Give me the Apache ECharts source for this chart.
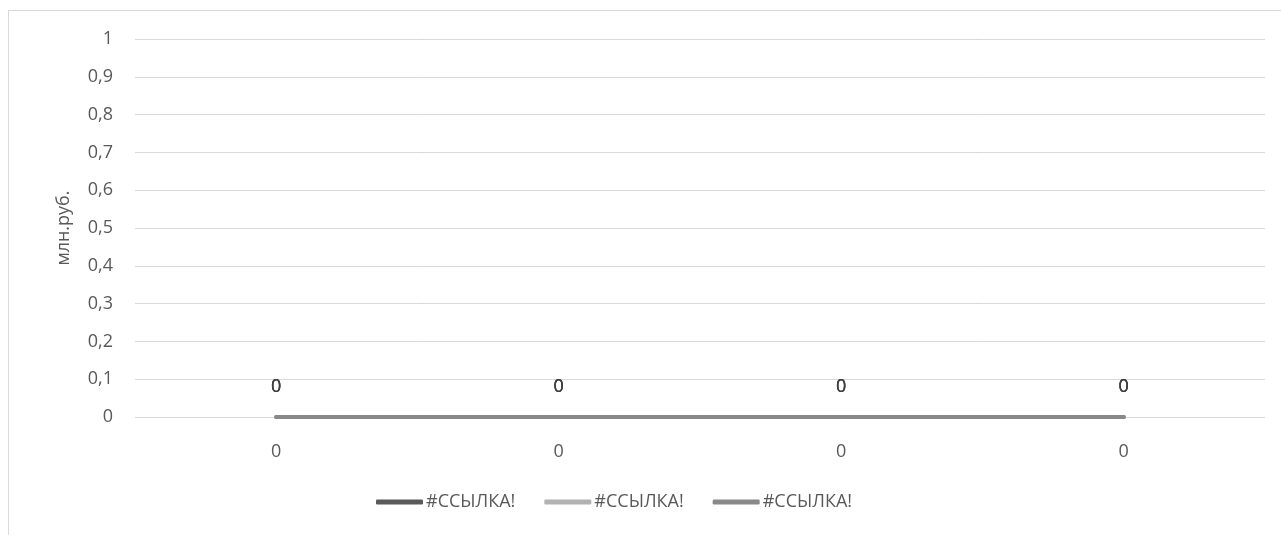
<!DOCTYPE html>
<html><head><meta charset="utf-8">
<script src="https://cdn.jsdelivr.net/npm/echarts@6/dist/echarts.min.js"></script>
<style>
html,body{margin:0;padding:0;background:#fff;}
#frame{position:absolute;left:8px;top:10px;width:1290px;height:540px;border:1px solid #d9d9d9;box-sizing:border-box;}
#c{position:absolute;left:0;top:0;width:1281px;height:535px;}
</style></head>
<body>
<div id="frame"></div>
<div id="c"></div>
<script>
const categories = ['0', '0', '0', '0'];
const seriesNames = ['#ССЫЛКА!', '#ССЫЛКА!', '#ССЫЛКА!'];
const seriesA = [0, 0, 0, 0];
const seriesB = [0, 0, 0, 0];
const seriesC = [0, 0, 0, 0];
const yTicks = [0, 0.1, 0.2, 0.3, 0.4, 0.5, 0.6, 0.7, 0.8, 0.9, 1];
const yTitle = 'млн.руб.';

const colors = ['#5a5a5a', '#b2b2b2', '#898989'];
const font = 'Open Sans';
const fs = 18;
const chart = echarts.init(document.getElementById('c'), null, {renderer: 'canvas'});
const seriesData = [seriesA, seriesB, seriesC];
chart.setOption({
  animation: false,
  textStyle: {fontFamily: font},
  grid: {left: 135, right: 16, top: 39, bottom: 118, containLabel: false},
  legend: {
    top: 493, left: 376, padding: 0,
    itemWidth: 47, itemHeight: 5, itemGap: 29,
    icon: 'roundRect',
    textStyle: {fontFamily: font, fontSize: fs, color: '#595959', padding: [0, 0, 0, -2]},
    data: seriesNames.map((n, i) => ({name: n + '\u200b'.repeat(i), itemStyle: {color: colors[i]}}))
  },
  xAxis: {
    type: 'category', data: categories, boundaryGap: true,
    axisLine: {show: false}, axisTick: {show: false},
    axisLabel: {fontFamily: font, fontSize: fs, color: '#595959', margin: 26}
  },
  yAxis: {
    type: 'value', min: 0, max: 1, interval: 0.1,
    name: yTitle, nameLocation: 'middle', nameGap: 62, nameRotate: 90,
    nameTextStyle: {fontFamily: font, fontSize: fs, color: '#595959'},
    axisLine: {show: false}, axisTick: {show: false},
    splitLine: {lineStyle: {color: '#d9d9d9', width: 1}},
    axisLabel: {fontFamily: font, fontSize: fs, color: '#595959', margin: 22,
      formatter: v => { const t = yTicks.find(x => Math.abs(x - v) < 1e-9); return String(t !== undefined ? t : v).replace('.', ','); }}
  },
  series: seriesData.map((d, i) => ({
    type: 'line', name: seriesNames[i] + '\u200b'.repeat(i), data: d,
    symbol: 'circle', symbolSize: 1, showSymbol: true, color: colors[i],
    itemStyle: {color: colors[i]},
    lineStyle: {width: 4, color: colors[i], cap: 'round'},
    labelLayout: {hideOverlap: false},
    label: {show: true, position: 'top', distance: 21, fontFamily: font, fontSize: fs, color: '#404040'}
  }))
});
</script>
</body></html>
